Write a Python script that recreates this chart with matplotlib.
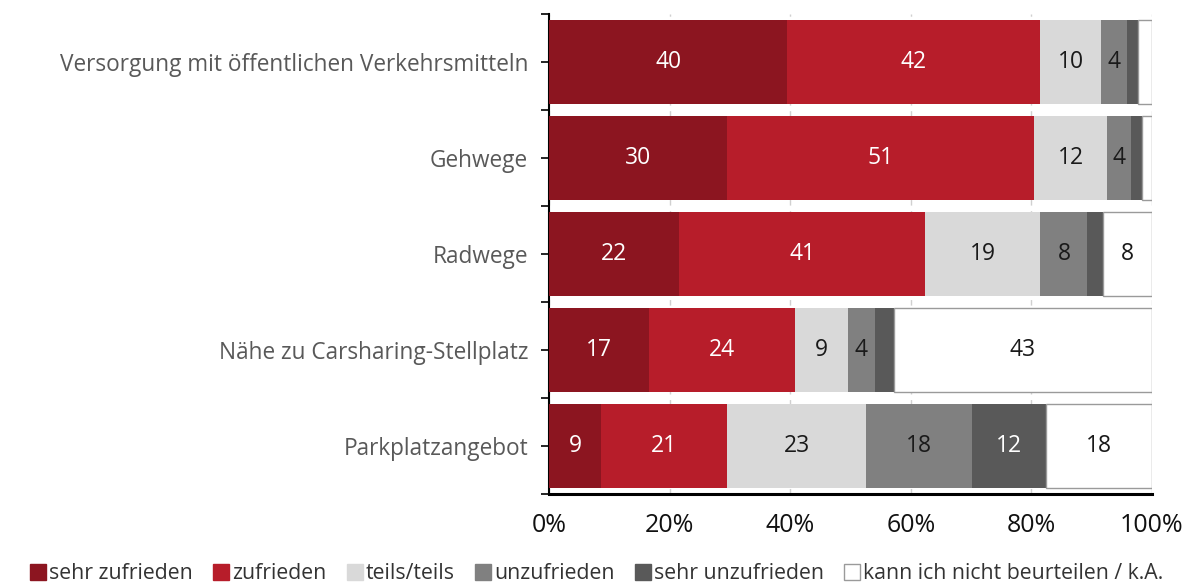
import matplotlib
matplotlib.use("Agg")
import matplotlib.pyplot as plt
from matplotlib.patches import Patch
import numpy as np

plt.rcParams['font.family'] = ['Open Sans', 'DejaVu Sans']

categories = ["Versorgung mit öffentlichen Verkehrsmitteln", "Gehwege", "Radwege",
              "Nähe zu Carsharing-Stellplatz", "Parkplatzangebot"]
series_names = ["sehr zufrieden", "zufrieden", "teils/teils", "unzufrieden",
                "sehr unzufrieden", "kann ich nicht beurteilen / k.A."]
sehr_zufrieden = [39.5, 29.5, 21.6, 16.6, 8.6]
zufrieden = [42.0, 51.0, 40.8, 24.2, 21.0]
teils = [10.0, 12.0, 19.1, 8.8, 23.0]
unzufrieden = [4.4, 4.0, 7.8, 4.4, 17.6]
sehr_unzufrieden = [1.8, 1.8, 2.6, 3.2, 12.2]
kann_nicht = [2.3, 1.7, 8.1, 42.8, 17.6]
xticks = [0, 20, 40, 60, 80, 100]

data = [sehr_zufrieden, zufrieden, teils, unzufrieden, sehr_unzufrieden, kann_nicht]
colors = ["#8C1520", "#B71D2A", "#D9D9D9", "#808080", "#595959", "#FFFFFF"]
edgecolors = ["none", "none", "none", "none", "none", "#9A9A9A"]
text_colors = ["white", "white", "#1a1a1a", "#1a1a1a", "white", "#1a1a1a"]

fig = plt.figure(figsize=(11.94, 5.83), dpi=100)
ax = fig.add_axes([0.4598, 0.1527, 0.505, 0.823])

y = np.arange(len(categories))
left = np.zeros(len(categories))
for vals, c, ec, tc in zip(data, colors, edgecolors, text_colors):
    vals = np.array(vals)
    ax.barh(y, vals, left=left, height=0.87, color=c, edgecolor=ec,
            linewidth=1.0 if ec != "none" else 0, zorder=3)
    for yi, (l, v) in enumerate(zip(left, vals)):
        if v >= 3.5:
            ax.text(l + v / 2, yi, f"{int(round(v))}", ha="center", va="center",
                    color=tc, fontsize=16.5, zorder=4)
    left += vals

ax.set_xlim(0, 100)
ax.set_ylim(len(categories) - 0.5, -0.5)
ax.set_xticks(xticks)
ax.set_xticklabels([f"{t}%" for t in xticks], fontsize=18, color="#111111")
ax.set_yticks(y)
ax.set_yticklabels(categories, fontsize=16.3, color="#595959")
ax.set_yticks(np.arange(len(categories) + 1) - 0.5, minor=True)
ax.tick_params(axis="y", which="both", length=6, width=1.2, color="black", pad=9)
ax.tick_params(axis="x", length=0, pad=14)

for s in ["top", "right"]:
    ax.spines[s].set_visible(False)
ax.spines["left"].set_linewidth(1.5)
ax.spines["bottom"].set_linewidth(2.2)
ax.spines["left"].set_color("black")
ax.spines["bottom"].set_color("black")
ax.xaxis.grid(True, linestyle=(0, (4, 4)), color="#D0D0D0", linewidth=1, zorder=0)
ax.set_axisbelow(True)

handles = [Patch(facecolor=c, edgecolor=(ec if ec != "none" else c), linewidth=1)
           for c, ec in zip(colors, edgecolors)]
fig.legend(handles, series_names, loc="lower center", ncol=6, frameon=False,
           fontsize=15.3, handlelength=0.75, handleheight=0.75, handletextpad=0.15,
           columnspacing=0.95, bbox_to_anchor=(0.5, -0.035),
           labelcolor="#333333")

fig.savefig("out.png", dpi=100)
